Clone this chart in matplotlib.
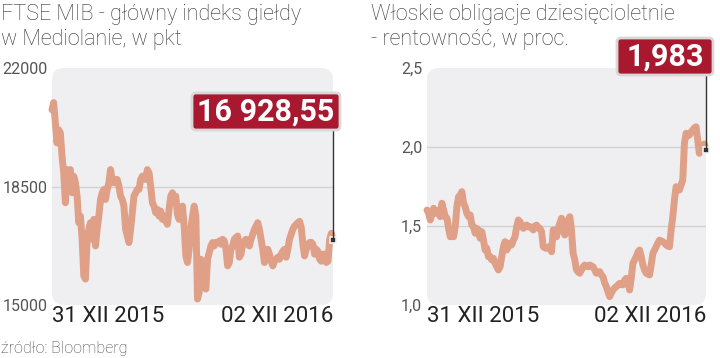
import matplotlib
matplotlib.use("Agg")
import matplotlib.pyplot as plt
from matplotlib.patches import FancyBboxPatch
import numpy as np

# ---------------- data ----------------
ftse_values = [
    20765, 20979, 20373, 19785, 20176, 20079, 19391, 18903, 18021, 19000, 18903, 19000,
    18315, 18803, 18609, 18215, 17432, 17626, 16941, 15862, 15765, 16941, 17235, 17432,
    16941, 17529, 16744, 17235, 17626, 18118, 18315, 18412, 18118, 18412, 18609, 19000,
    18706, 18609, 18706, 18706, 18509, 18215, 18118, 17921, 17235, 17038, 16844, 17235,
    17726, 18215, 18315, 18412, 18412, 18706, 18803, 18803,
    18706, 19000, 18903, 18509, 18021, 17921, 17726, 17824, 17626, 17774, 17529, 17626,
    17480, 17382, 17824, 18215, 18315, 18118, 18215, 17676, 17529, 17824, 17921, 17333,
    16450, 16256, 16647, 17235, 17626, 17921, 17626, 15176, 15373, 16353, 15862, 15668,
    15471, 16353, 16550, 16744, 16844, 16744, 16844, 16844, 16894, 16794, 16941, 16894,
    16647, 16156, 16256, 16647, 16744, 16941, 16991, 17038,
    16412, 16500, 16794, 16894, 16941, 16794, 16744, 16941, 17088, 17235, 17332, 17432,
    17235, 16941, 16647, 16256, 16500, 16647, 16500, 16294, 16156, 16294, 16353, 16412,
    16353, 16500, 16588, 16647, 16412, 16647, 16941, 17088, 17235, 17332, 17382, 17432,
    17471, 17294, 16794, 16450, 16647, 16794, 16844, 16853, 16794, 16500, 16647, 16588,
    16353, 16294, 16500, 16500, 16256, 16294, 16941, 17118, 16928.55,
]

btp_values = [
    1.601, 1.580, 1.538, 1.580, 1.612, 1.580, 1.591, 1.601, 1.559, 1.644, 1.601, 1.559,
    1.549, 1.485, 1.432, 1.454, 1.432, 1.496, 1.622, 1.685, 1.696, 1.717, 1.644, 1.622,
    1.580, 1.559, 1.570, 1.506, 1.496, 1.454, 1.485, 1.475, 1.422, 1.464, 1.411, 1.348,
    1.359, 1.306, 1.306, 1.285, 1.296, 1.264, 1.242, 1.222, 1.242, 1.306, 1.369, 1.401,
    1.348, 1.369, 1.391, 1.380, 1.411, 1.432, 1.496, 1.538,
    1.527, 1.500, 1.485, 1.500, 1.506, 1.494, 1.496, 1.487, 1.475, 1.500, 1.506, 1.487,
    1.485, 1.464, 1.369, 1.361, 1.359, 1.367, 1.369, 1.337, 1.475, 1.443, 1.432, 1.487,
    1.517, 1.549, 1.475, 1.443, 1.506, 1.538, 1.559, 1.475, 1.327, 1.285, 1.222, 1.209,
    1.201, 1.222, 1.241, 1.253, 1.247, 1.242, 1.253, 1.247, 1.242, 1.222, 1.201, 1.209,
    1.211, 1.190, 1.179, 1.139, 1.116, 1.082, 1.053, 1.076, 1.095, 1.108, 1.116, 1.127,
    1.137, 1.133, 1.127, 1.158, 1.169, 1.158, 1.095, 1.171, 1.264, 1.285, 1.306, 1.335,
    1.348, 1.306, 1.253, 1.222, 1.201, 1.196, 1.190, 1.253, 1.327, 1.348, 1.369, 1.392,
    1.411, 1.405, 1.401, 1.392, 1.380, 1.373, 1.369, 1.475, 1.559, 1.665, 1.749, 1.728,
    1.728, 1.759, 1.791, 2.023, 2.087, 2.070, 2.076, 2.095, 2.108, 2.120, 2.128, 2.044,
    1.960, 2.002, 2.013, 2.019, 1.983,
]

date_labels = ["31 XII 2015", "02 XII 2016"]
ftse_ticks = [15000, 18500, 22000]
ftse_tick_labels = ["15000", "18500", "22000"]
btp_ticks = [1.0, 1.5, 2.0, 2.5]
btp_tick_labels = ["1,0", "1,5", "2,0", "2,5"]
ftse_last_label = "16 928,55"
btp_last_label = "1,983"
title_left = ["FTSE MIB - główny indeks giełdy", "w Mediolanie, w pkt"]
title_right = ["Włoskie obligacje dziesięcioletnie", "- rentowność, w proc."]
source = "źródło: Bloomberg"

# ---------------- style ----------------
FONT = ["Roboto", "DejaVu Sans"]
LINE_COLOR = "#e0a088"
BG_COLOR = "#efeff1"
BOX_COLOR = "#a8182f"
GRID_COLOR = "#d2d2d4"

W, H = 720, 358
fig = plt.figure(figsize=(7.2, 3.58), dpi=100)
fig.patch.set_facecolor("white")


def px_rect(x0, y0, x1, y1):
    return [x0 / W, 1 - y1 / H, (x1 - x0) / W, (y1 - y0) / H]


def panel(rect_px, values, ylim, ticks, tick_labels, grid_vals, last_label, box_px, pad_px):
    ax = fig.add_axes(px_rect(*rect_px))
    wpx = rect_px[2] - rect_px[0]
    hpx = rect_px[3] - rect_px[1]
    ax.set_facecolor("none")
    for s in ax.spines.values():
        s.set_visible(False)
    bg = FancyBboxPatch((0, 0), 1, 1, boxstyle="round,pad=0,rounding_size=%f" % (12 / wpx),
                        mutation_aspect=wpx / hpx, transform=ax.transAxes,
                        facecolor=BG_COLOR, edgecolor="none", zorder=0)
    ax.add_patch(bg)
    n = len(values)
    x = np.arange(n)
    ax.set_xlim(0, n - 1)
    ax.set_ylim(*ylim)
    for g in grid_vals:
        ax.axhline(g, color=GRID_COLOR, lw=1.0, zorder=1)
    ax.plot(x, values, color=LINE_COLOR, lw=5.0, solid_joinstyle="round",
            solid_capstyle="round", zorder=2, clip_on=False)
    ax.plot([x[-1]], [values[-1]], marker="s", ms=5, color="#333333",
            mec="#f4f4f4", mew=1.2, zorder=5, clip_on=False)
    ax.set_yticks(ticks)
    ax.set_yticklabels(tick_labels, fontsize=11.5, color="#555555", family=FONT)
    ax.tick_params(axis="y", length=0, pad=pad_px * 0.72)
    ax.set_xticks([0, n - 1])
    ax.set_xticklabels(date_labels, fontsize=16, color="#222222", family=FONT)
    ax.tick_params(axis="x", length=0, pad=0.5)
    xl = ax.get_xticklabels()
    xl[0].set_ha("left")
    xl[1].set_ha("right")
    # annotation box (figure pixel coords)
    bx0, by0, bx1, by1 = box_px
    bw, bh = (bx1 - bx0) / W, (by1 - by0) / H
    box = FancyBboxPatch((bx0 / W, 1 - by1 / H), bw, bh,
                         boxstyle="round,pad=0,rounding_size=%f" % (4 / W),
                         mutation_aspect=W / H, transform=fig.transFigure,
                         facecolor=BOX_COLOR, edgecolor="#d8d8d8", lw=2.0, zorder=10)
    fig.add_artist(box)
    fig.text((bx0 + bx1) / 2 / W, 1 - (by0 + by1) / 2 / H, last_label,
             ha="center", va="center", color="white", fontsize=22,
             fontweight="bold", family=FONT, zorder=11)
    # connector
    xd = ax.transData.transform((x[-1], values[-1]))
    xf = fig.transFigure.inverted().transform(xd)
    fig.add_artist(plt.Line2D([xf[0], xf[0]], [1 - by1 / H, xf[1]],
                              transform=fig.transFigure, color="#333333", lw=1.0, zorder=4))
    return ax


panel((52, 68, 333, 305), ftse_values, (15000, 22000), ftse_ticks, ftse_tick_labels,
      [18500], ftse_last_label, (192, 93, 340, 130), 4)
panel((427, 68, 706, 305), btp_values, (1.0, 2.5), btp_ticks, btp_tick_labels,
      [1.5, 2.0], btp_last_label, (617, 38, 713, 75), 5)

for x0, lines in ((1, title_left), (371, title_right)):
    for i, line in enumerate(lines):
        fig.text(x0 / W, 1 - (20 + 25 * i) / H, line, ha="left", va="baseline",
                 fontsize=15.5, color="#333333", family=FONT, fontweight="light")
fig.text(1 / W, 1 - 348 / H, source, ha="left", va="center", fontsize=11.5,
         color="#444444", family=FONT, fontweight="light")

fig.savefig("out.png", dpi=100, facecolor="white")
